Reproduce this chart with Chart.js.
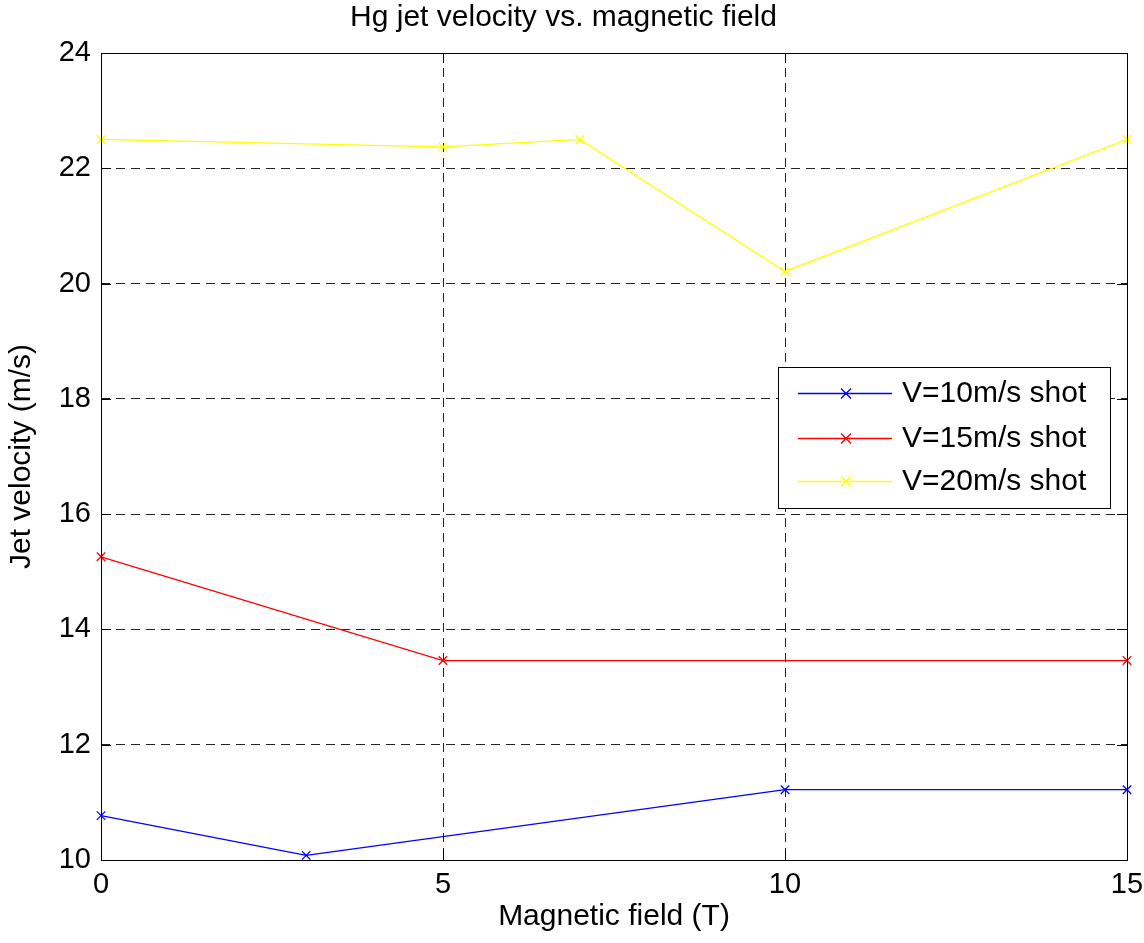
<!DOCTYPE html>
<html>
<head>
<meta charset="utf-8">
<script src="https://cdn.jsdelivr.net/npm/chart.js@4"></script>
<style>
    html, body { margin: 0; padding: 0; background: #fff; }
    #wrap { width: 1144px; height: 943px; position: relative; }
</style>
</head>
<body>
<div id="wrap"><canvas id="chart"></canvas></div>
<script>
// Data
const seriesLabels = ['V=10m/s shot', 'V=15m/s shot', 'V=20m/s shot'];
const seriesColors = ['#0000ff', '#ff0000', '#ffff00'];

const field10 = [0, 3, 10, 15];
const jet10 = [10.77, 10.08, 11.22, 11.22];

const field15 = [0, 5, 15];
const jet15 = [15.26, 13.46, 13.46];

const field20 = [0, 5, 7, 10, 15];
const jet20 = [22.5, 22.37, 22.5, 20.21, 22.5];

const xTicks = [0, 5, 10, 15];
const yTicks = [10, 12, 14, 16, 18, 20, 22, 24];

const FONT = "'Liberation Sans', Arial, Helvetica, sans-serif";

function toPoints(xs, ys) {
    return xs.map((x, i) => ({ x: x, y: ys[i] }));
}

function makeDataset(i, xs, ys) {
    return {
        label: seriesLabels[i],
        data: toPoints(xs, ys),
        borderColor: seriesColors[i],
        backgroundColor: seriesColors[i],
        borderWidth: 1.3,
        pointStyle: 'crossRot',
        pointRadius: 6,
        pointBorderWidth: 1.3,
        pointHoverRadius: 6,
        tension: 0,
        fill: false,
        clip: false
    };
}

// box, inward ticks and the in-plot legend (MATLAB style)
const matlabFrame = {
    id: 'matlabFrame',
    afterDatasetsDraw(chart) {
        const { ctx, chartArea: a, scales } = chart;
        ctx.save();
        ctx.strokeStyle = '#000';
        ctx.lineWidth = 1;
        ctx.setLineDash([]);
        ctx.strokeRect(a.left + 0.5, a.top + 0.5, a.right - a.left, a.bottom - a.top);

        const len = 10;
        ctx.beginPath();
        xTicks.forEach(v => {
            const px = Math.round(scales.x.getPixelForValue(v)) + 0.5;
            ctx.moveTo(px, a.bottom); ctx.lineTo(px, a.bottom - len);
            ctx.moveTo(px, a.top); ctx.lineTo(px, a.top + len);
        });
        yTicks.forEach(v => {
            const py = Math.round(scales.y.getPixelForValue(v)) + 0.5;
            ctx.moveTo(a.left, py); ctx.lineTo(a.left + len, py);
            ctx.moveTo(a.right, py); ctx.lineTo(a.right - len, py);
        });
        ctx.stroke();

        // legend box
        const bx = 778, by = 367, bw = 332, bh = 141;
        ctx.fillStyle = '#fff';
        ctx.fillRect(bx, by, bw, bh);
        ctx.strokeRect(bx + 0.5, by + 0.5, bw, bh);

        const rows = [393, 438, 481];
        ctx.font = '30px ' + FONT;
        ctx.textBaseline = 'middle';
        ctx.textAlign = 'left';
        chart.data.datasets.forEach((ds, i) => {
            const y = rows[i] + 0.5;
            ctx.strokeStyle = ds.borderColor;
            ctx.lineWidth = 1.3;
            ctx.beginPath();
            ctx.moveTo(798, y); ctx.lineTo(892, y);
            const mx = 846, r = 5;
            ctx.moveTo(mx - r, y - r); ctx.lineTo(mx + r, y + r);
            ctx.moveTo(mx - r, y + r); ctx.lineTo(mx + r, y - r);
            ctx.stroke();
            ctx.fillStyle = '#000';
            ctx.fillText(ds.label, 902, rows[i] + 1);
        });
        ctx.restore();
    }
};

const gridStyle = {
    color: '#222',
    lineWidth: 1,
    drawTicks: false
};

new Chart(document.getElementById('chart'), {
    type: 'line',
    data: {
        datasets: [
            makeDataset(0, field10, jet10),
            makeDataset(1, field15, jet15),
            makeDataset(2, field20, jet20)
        ]
    },
    options: {
        responsive: true,
        maintainAspectRatio: false,
        animation: false,
        layout: { padding: { left: 0, right: 17, top: 0, bottom: 0 } },
        plugins: {
            legend: { display: false },
            tooltip: { enabled: false },
            title: {
                display: true,
                text: 'Hg jet velocity vs. magnetic field',
                color: '#000',
                font: { family: FONT, size: 30, weight: 'normal' },
                padding: { top: 0, bottom: 17 }
            }
        },
        scales: {
            x: {
                type: 'linear',
                min: 0,
                max: 15,
                afterBuildTicks: s => { s.ticks = xTicks.map(v => ({ value: v })); },
                afterFit: s => { s.height = 83; s.paddingLeft = 0; s.paddingRight = 0; },
                grid: gridStyle,
                border: { display: false, dash: [9, 6] },
                ticks: {
                    color: '#000',
                    padding: 8,
                    maxRotation: 0,
                    font: { family: FONT, size: 29 }
                },
                title: {
                    display: true,
                    text: 'Magnetic field (T)',
                    color: '#000',
                    font: { family: FONT, size: 30 },
                    padding: { top: 0, bottom: 8 }
                }
            },
            y: {
                min: 10,
                max: 24,
                afterBuildTicks: s => { s.ticks = yTicks.map(v => ({ value: v })); },
                afterFit: s => { s.width = 101; s.paddingTop = 0; s.paddingBottom = 0; },
                grid: gridStyle,
                border: { display: false, dash: [9, 6] },
                ticks: {
                    color: '#000',
                    padding: 10,
                    font: { family: FONT, size: 29 }
                },
                title: {
                    display: true,
                    text: 'Jet velocity (m/s)',
                    color: '#000',
                    font: { family: FONT, size: 30 },
                    padding: { top: 4, bottom: 0 }
                }
            }
        }
    },
    plugins: [matlabFrame]
});
</script>
</body>
</html>
